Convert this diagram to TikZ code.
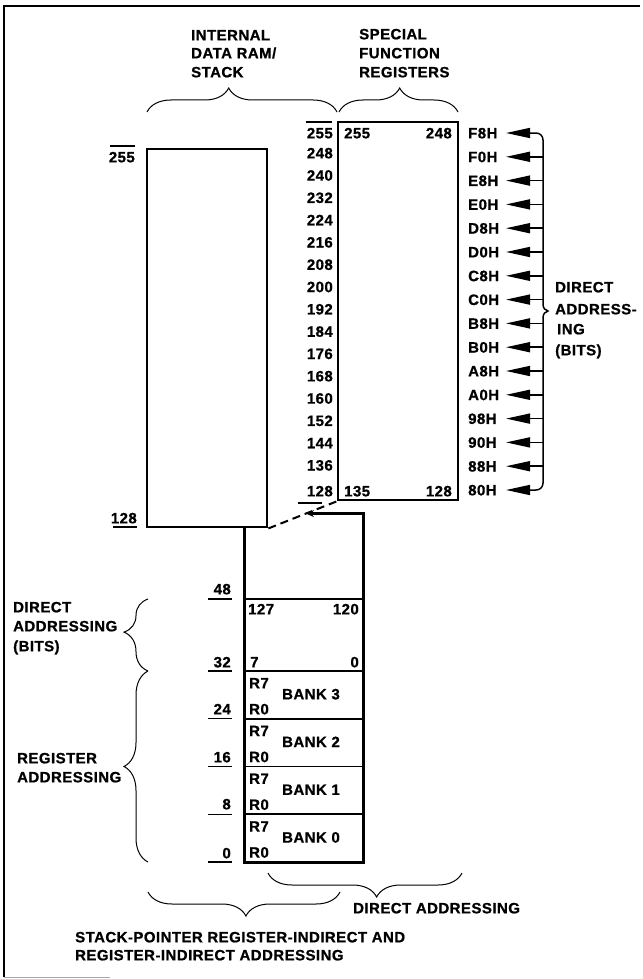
\documentclass[tikz,border=0pt]{standalone}
\usepackage{fontspec}
\setmainfont{Liberation Sans}[LetterSpace=3, BoldFeatures={FakeBold=0.8}]
\usetikzlibrary{arrows.meta,decorations.pathreplacing,calc}
\begin{document}
\begin{tikzpicture}[x=1pt,y=-1pt,
  txt/.style={font=\bfseries\fontsize{15}{18}\selectfont, inner sep=0pt, text height=10.7pt, text depth=0pt},
  lt/.style={txt, anchor=west},
  rt/.style={txt, anchor=east},
  ct/.style={txt, anchor=center},
  boxline/.style={line width=2.8pt},
  sepline/.style={line width=1.7pt},
  tick/.style={line width=1.1pt},
  brc/.style={line width=1pt, decorate, decoration={brace, amplitude=24pt, aspect=#1}},
  tip/.style={Triangle[length=24pt,width=10pt]},
  arr/.style={line width=1.5pt, -{Triangle[length=24pt,width=10pt]}},
  memblock/.style={draw, boxline, inner sep=0pt, minimum width=120pt, minimum height=378pt},
  cell/.style={draw, sepline, inner sep=0pt, minimum width=118pt}
]
\useasboundingbox (0,0) rectangle (642,979);
% frame
\draw[line width=2.2pt] (640,6) -- (4,6) -- (4,977);
\draw[line width=1pt, black!35] (4,977) -- (110,977);

% headings
\node[lt] (h-int1) at (191,35) {INTERNAL};
\node[lt] (h-int2) at (191,53) {DATA RAM/};
\node[lt] (h-int3) at (191,72) {STACK};
\node[lt] (h-sfr1) at (359,34) {SPECIAL};
\node[lt] (h-sfr2) at (359,53) {FUNCTION};
\node[lt] (h-sfr3) at (359,72) {REGISTERS};
\coordinate (tb1) at (147,112); \coordinate (tb2) at (337,112);
\coordinate (tb3) at (339,112); \coordinate (tb4) at (458,112);
\draw[brc=0.43] (tb1) -- (tb2);
\draw[brc=0.51] (tb3) -- (tb4);

% upper memory blocks
\node[memblock] (ram) at (207,338) {};
\node[memblock] (sfr) at (398,311) {};

% left labels of RAM
\node[rt] (l255) at (135,157) {255};
\draw[tick] (110,146) -- (135,146);
\node[rt] (l128) at (137,518) {128};
\draw[tick] (113,527) -- (137,527);

% SFR decimal labels
\node[rt] (d255) at (333,133) {255};
\draw[tick] (306,122) -- (332,122);
\foreach \v [count=\i from 0] in {248,240,232,224,216,208,200,192,184,176,168,160,152,144,136}{
  \node[rt] (d\v) at (333,{153+22.3*\i}) {\v};
}
\node[rt] (d128) at (333,491) {128};
\draw[tick] (298,503) -- (322,503);

% inside SFR
\node[lt] (s255) at (344,133) {255};
\node[rt] (s248) at (452,133) {248};
\node[lt] (s135) at (344,491) {135};
\node[rt] (s128) at (452,491) {128};

% hex addresses
\foreach \h [count=\i from 0] in {F8H,F0H,E8H,E0H,D8H,D0H,C8H,C0H,B8H,B0H,A8H,A0H,98H,90H,88H,80H}{
  \node[lt] (x\i) at (468,{133+23.8*\i}) {\h};
  \coordinate (t\i) at (506,{133+23.8*\i});
  \coordinate (b\i) at (543,{133+23.8*\i});
}
\foreach \i in {1,...,14} \draw[arr] (b\i) -- (t\i);
\draw[line width=1.5pt, {Triangle[length=24pt,width=10pt]}-{Triangle[length=24pt,width=10pt]}]
  (t0) -- (536,133) .. controls (540,133) and (543,136) .. (543,140) -- (543,304)
  .. controls (543,308) and (545,310.5) .. (548,311)
  .. controls (545,311.5) and (543,314) .. (543,318) -- (543,483)
  .. controls (543,487) and (540,490) .. (536,490) -- (t15);
\node[lt] (r1) at (555,287) {DIRECT};
\node[lt] (r2) at (555,309) {ADDRESS-};
\node[lt] (r3) at (557,329) {ING};
\node[lt] (r4) at (555,350) {(BITS)};

% lower memory block
\node[cell, minimum height=72pt] (bits) at (304,635) {};
\foreach \k in {3,2,1,0}{
  \pgfmathsetmacro{\top}{671+(3-\k)*47.75}
  \node[cell, minimum height=47.75pt] (bank\k) at (304,{\top+23.875}) {};
  \node[lt] (r7-\k) at (249,{\top+12}) {R7};
  \node[lt] (r0-\k) at (249,{\top+38}) {R0};
  \node[ct] (bl\k) at (311,{\top+23}) {BANK \k};
}
\coordinate (lt) at ($(ram.south east)!0.55!(sfr.south west)$);
\draw[line width=2pt, dash pattern=on 8pt off 5pt] (ram.south east) -- (sfr.south west);
\draw[boxline, {Stealth[length=8pt,width=7pt]}-] (lt) -- (lt -| bank0.east) -- (bank0.south east) -- (bank0.south west) -- (ram.south -| bank0.west);
\node[lt] (c127) at (248,609) {127};
\node[rt] (c120) at (359,609) {120};
\node[lt] (c7) at (250,662) {7};
\node[rt] (c0) at (359,662) {0};

% lower block left labels
\foreach \v/\y in {48/589, 32/662, 24/709, 16/757, 8/804, 0/853}{
  \node[rt] (a\v) at (231,\y) {\v};
}
\foreach \y in {599,671,718.75,766.5,814.25,862}{
  \draw[tick] (208,\y) -- (232,\y);
}

% left braces and labels
\coordinate (vb1) at (148,671); \coordinate (vb2) at (148,599);
\coordinate (vb3) at (148,862);
\draw[brc=0.54] (vb1) -- (vb2);
\draw[brc=0.5] (vb3) -- (vb1);
\node[lt] (la1) at (13,607) {DIRECT};
\node[lt] (la2) at (13,626) {ADDRESSING};
\node[lt] (la3) at (13,646) {(BITS)};
\node[lt] (lr1) at (17,758) {REGISTER};
\node[lt] (lr2) at (17,777) {ADDRESSING};

% bottom braces and labels
\coordinate (bb1) at (462,873); \coordinate (bb2) at (268,873);
\coordinate (bb3) at (340,892); \coordinate (bb4) at (148,892);
\draw[brc=0.44] (bb1) -- (bb2);
\draw[brc=0.49] (bb3) -- (bb4);
\node[lt] (ld) at (353,908) {DIRECT ADDRESSING};
\node[lt] (ls1) at (75,937) {STACK-POINTER REGISTER-INDIRECT AND};
\node[lt] (ls2) at (75,955) {REGISTER-INDIRECT ADDRESSING};
\end{tikzpicture}
\end{document}
